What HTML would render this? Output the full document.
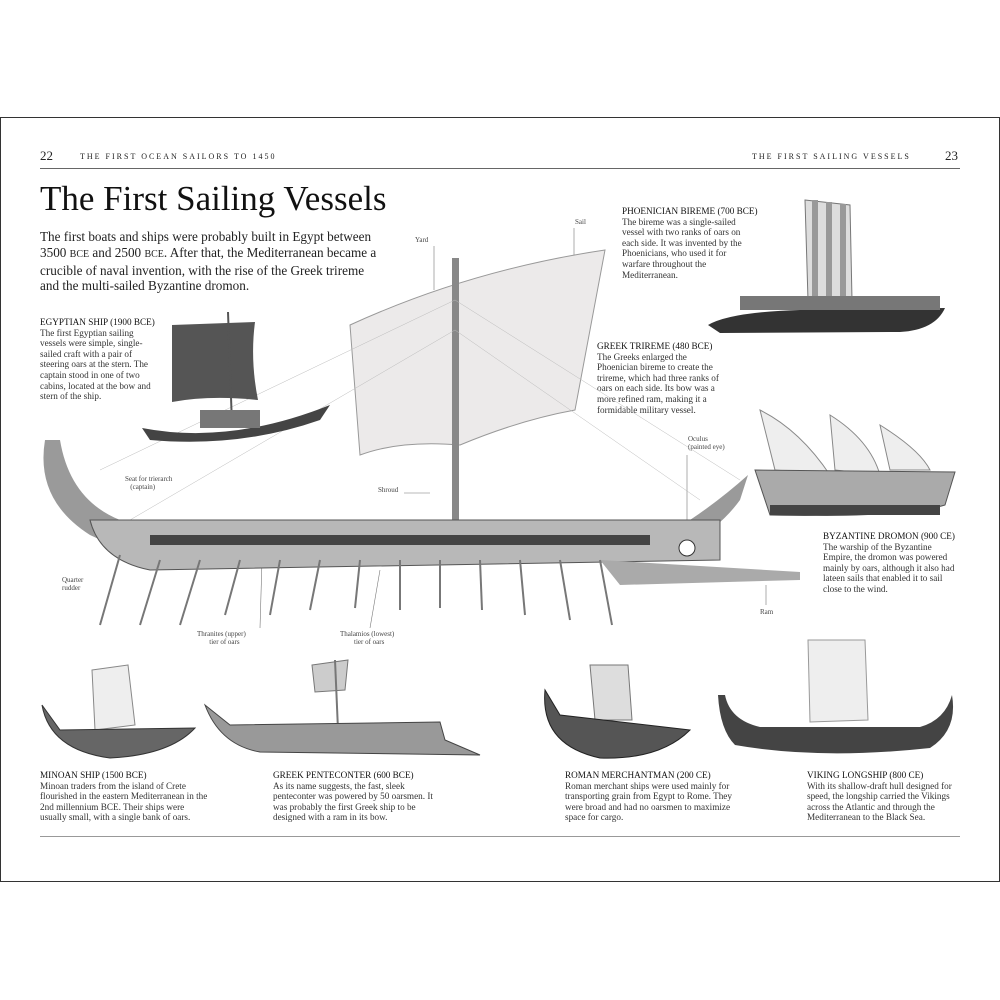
<!DOCTYPE html>
<html><head><meta charset="utf-8"><style>
body{margin:0;width:1000px;height:1000px;background:#fff;position:relative;font-family:"Liberation Serif",serif;color:#222;overflow:hidden}
.a{position:absolute}
.s{font-size:9.2px;line-height:10.6px;color:#333}
.s b{font-weight:normal;color:#111;white-space:nowrap}
.lab{font-size:7px;color:#444;line-height:8px}
</style></head><body>
<div class="a" style="left:0;top:117px;width:998px;height:763px;border:1px solid #333"></div>
<div class="a" style="left:40px;top:168px;width:920px;height:1px;background:#666"></div>
<div class="a" style="left:40px;top:836px;width:920px;height:1px;background:#999"></div>
<div class="a" style="left:40px;top:148px;font-size:13px">22</div>
<div class="a" style="left:80px;top:152px;font-size:8px;letter-spacing:2px">THE FIRST OCEAN SAILORS  TO 1450</div>
<div class="a" style="left:752px;top:152px;font-size:8px;letter-spacing:2px">THE FIRST SAILING VESSELS</div>
<div class="a" style="left:945px;top:148px;font-size:13px">23</div>
<div class="a" style="left:40px;top:179px;font-size:35px;color:#111">The First Sailing Vessels</div>
<div class="a" style="left:40px;top:229px;font-size:13.2px;line-height:15.8px;width:340px">The first boats and ships were probably built in Egypt between 3500 <span style="font-size:10px">BCE</span> and 2500 <span style="font-size:10px">BCE</span>. After that, the Mediterranean became a crucible of naval invention, with the rise of the Greek trireme and the multi-sailed Byzantine dromon.</div>
<div class="a s" style="left:40px;top:317px;width:115px"><b>EGYPTIAN SHIP (1900 BCE)</b><br>The first Egyptian sailing vessels were simple, single-sailed craft with a pair of steering oars at the stern. The captain stood in one of two cabins, located at the bow and stern of the ship.</div>
<div class="a s" style="left:622px;top:206px;width:125px"><b>PHOENICIAN BIREME (700 BCE)</b><br>The bireme was a single-sailed vessel with two ranks of oars on each side. It was invented by the Phoenicians, who used it for warfare throughout the Mediterranean.</div>
<div class="a s" style="left:597px;top:341px;width:130px"><b>GREEK TRIREME (480 BCE)</b><br>The Greeks enlarged the Phoenician bireme to create the trireme, which had three ranks of oars on each side. Its bow was a more refined ram, making it a formidable military vessel.</div>
<div class="a s" style="left:823px;top:531px;width:140px"><b>BYZANTINE DROMON (900 CE)</b><br>The warship of the Byzantine Empire, the dromon was powered mainly by oars, although it also had lateen sails that enabled it to sail close to the wind.</div>
<div class="a s" style="left:40px;top:770px;width:170px"><b>MINOAN SHIP (1500 BCE)</b><br>Minoan traders from the island of Crete flourished in the eastern Mediterranean in the 2nd millennium BCE. Their ships were usually small, with a single bank of oars.</div>
<div class="a s" style="left:273px;top:770px;width:170px"><b>GREEK PENTECONTER (600 BCE)</b><br>As its name suggests, the fast, sleek penteconter was powered by 50 oarsmen. It was probably the first Greek ship to be designed with a ram in its bow.</div>
<div class="a s" style="left:565px;top:770px;width:170px"><b>ROMAN MERCHANTMAN (200 CE)</b><br>Roman merchant ships were used mainly for transporting grain from Egypt to Rome. They were broad and had no oarsmen to maximize space for cargo.</div>
<div class="a s" style="left:807px;top:770px;width:160px"><b>VIKING LONGSHIP (800 CE)</b><br>With its shallow-draft hull designed for speed, the longship carried the Vikings across the Atlantic and through the Mediterranean to the Black Sea.</div>
<div class="a lab" style="left:415px;top:236px">Yard</div>
<div class="a lab" style="left:575px;top:218px">Sail</div>
<div class="a lab" style="left:688px;top:435px">Oculus<br>(painted eye)</div>
<div class="a lab" style="left:125px;top:475px">Seat for trierarch<br>&nbsp;&nbsp;&nbsp;(captain)</div>
<div class="a lab" style="left:378px;top:486px">Shroud</div>
<div class="a lab" style="left:62px;top:576px">Quarter<br>rudder</div>
<div class="a lab" style="left:760px;top:608px">Ram</div>
<div class="a lab" style="left:197px;top:630px">Thranites (upper)<br>&nbsp;&nbsp;&nbsp;&nbsp;&nbsp;&nbsp;&nbsp;tier of oars</div>
<div class="a lab" style="left:340px;top:630px">Thalamios (lowest)<br>&nbsp;&nbsp;&nbsp;&nbsp;&nbsp;&nbsp;&nbsp;&nbsp;tier of oars</div>
<svg class="a" style="left:0;top:0" width="1000" height="1000">
<g stroke="#777" stroke-width="0.6">
<line x1="434" y1="246" x2="434" y2="290"/><line x1="574" y1="228" x2="574" y2="262"/>
<line x1="687" y1="455" x2="687" y2="535"/><line x1="404" y1="493" x2="430" y2="493"/>
<line x1="766" y1="605" x2="766" y2="585"/><line x1="260" y1="628" x2="262" y2="560"/>
<line x1="370" y1="628" x2="380" y2="570"/>
</g>
<path d="M350,325 Q470,270 605,250 Q590,330 575,410 Q520,420 460,445 Q400,440 360,455 Q355,390 350,325Z" fill="#eceaea" stroke="#999"/>
<rect x="452" y="258" width="7" height="272" fill="#888"/>
<g stroke="#bbb" stroke-width="0.5" fill="none"><path d="M100,470 L455,300 L740,480"/><path d="M130,520 L455,330 L700,500"/></g>
<path d="M45,440 Q35,500 90,535 Q130,555 200,560 L620,560 Q700,555 740,500 L748,475 Q720,500 690,520 L120,520 Q70,500 60,440Z" fill="#9a9a9a"/>
<path d="M90,520 L720,520 L720,560 L150,570 Q100,560 90,520Z" fill="#b8b8b8" stroke="#555"/>
<rect x="150" y="535" width="500" height="10" fill="#444"/>
<path d="M600,560 L800,572 L800,580 L620,585Z" fill="#aaa"/>
<circle cx="687" cy="548" r="8" fill="#fff" stroke="#333"/>
<g stroke="#777" stroke-width="2">
<line x1="120" y1="555" x2="100" y2="625"/><line x1="160" y1="560" x2="140" y2="625"/><line x1="200" y1="560" x2="180" y2="625"/><line x1="240" y1="560" x2="225" y2="615"/><line x1="280" y1="560" x2="270" y2="615"/><line x1="320" y1="560" x2="310" y2="610"/><line x1="360" y1="560" x2="355" y2="608"/><line x1="400" y1="560" x2="400" y2="610"/><line x1="440" y1="560" x2="440" y2="608"/><line x1="480" y1="560" x2="482" y2="610"/><line x1="520" y1="560" x2="525" y2="615"/><line x1="560" y1="560" x2="570" y2="620"/><line x1="600" y1="560" x2="612" y2="625"/>
</g>
<path d="M172,325 L255,322 Q250,360 258,400 Q210,395 172,402Z" fill="#555"/>
<line x1="228" y1="312" x2="232" y2="425" stroke="#555" stroke-width="2"/>
<path d="M142,428 Q230,445 330,405 L320,420 Q240,448 150,440Z" fill="#444"/>
<rect x="200" y="410" width="60" height="18" fill="#777"/>
<path d="M805,200 L850,205 L852,300 L808,300Z" fill="#ddd" stroke="#777"/>
<g fill="#999"><rect x="812" y="200" width="6" height="100"/><rect x="826" y="202" width="6" height="98"/><rect x="840" y="204" width="6" height="96"/></g>
<path d="M708,325 Q730,312 800,310 L945,308 Q935,330 900,332 L720,333Z" fill="#333"/>
<rect x="740" y="296" width="200" height="14" fill="#777"/>
<path d="M760,410 Q800,430 830,475 L775,470Z" fill="#eee" stroke="#888"/>
<path d="M830,415 Q870,440 880,475 L835,470Z" fill="#eee" stroke="#888"/>
<path d="M880,425 Q920,450 930,470 L890,470Z" fill="#eee" stroke="#888"/>
<path d="M755,470 L955,472 L945,505 Q900,518 770,515 Z" fill="#aaa" stroke="#555"/>
<rect x="770" y="505" width="170" height="10" fill="#444"/>
<path d="M92,670 L128,665 L135,725 L95,730Z" fill="#eee" stroke="#888"/>
<path d="M42,705 Q50,750 110,758 Q170,755 195,728 L60,730Z" fill="#666" stroke="#333"/>
<path d="M312,665 L348,660 L345,690 L315,692Z" fill="#ccc" stroke="#777"/>
<line x1="335" y1="660" x2="338" y2="730" stroke="#777" stroke-width="2"/>
<path d="M205,705 Q220,745 260,752 L480,755 L445,740 L440,722 L230,725Z" fill="#999" stroke="#444"/>
<path d="M590,665 L628,665 L632,720 L595,720Z" fill="#ddd" stroke="#777"/>
<path d="M545,690 Q540,745 600,758 Q660,760 690,730 L560,715Z" fill="#555" stroke="#222"/>
<path d="M808,640 L865,640 L868,720 L810,722Z" fill="#eee" stroke="#999"/>
<path d="M718,695 Q720,730 735,745 Q820,760 930,748 Q958,730 952,695 Q945,720 920,727 L760,727 Q730,720 725,695Z" fill="#444"/>
</svg>
</body></html>
